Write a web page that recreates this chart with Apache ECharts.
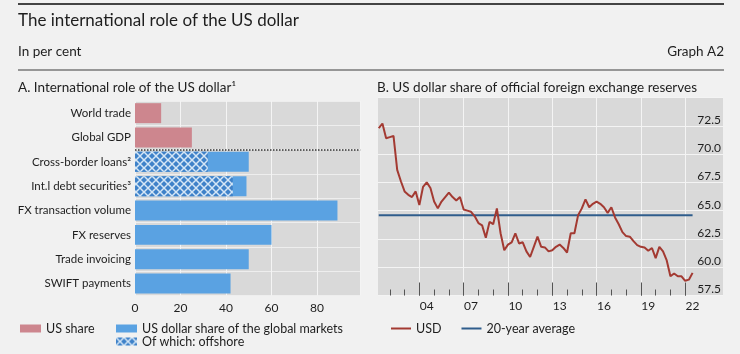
<!DOCTYPE html>
<html>
<head>
<meta charset="utf-8">
<script src="https://cdn.jsdelivr.net/npm/echarts@6/dist/echarts.min.js"></script>
<style>
  html, body { margin: 0; padding: 0; background: #f1f1f1; }
  #chart { width: 740px; height: 354px; }
</style>
</head>
<body>
<div id="chart"></div>
<script>
// Panel A: international role of the US dollar (per cent)
const categories = ['World trade', 'Global GDP', 'Cross-border loans²', 'Int.l debt securities³',
  'FX transaction volume', 'FX reserves', 'Trade invoicing', 'SWIFT payments'];
const usShare = [11.5, 25, '-', '-', '-', '-', '-', '-'];
const dollarShare = ['-', '-', 50, 49, 89, 60, 50, 42];
const offshoreShare = ['-', '-', 32, 43, '-', '-', '-', '-'];
const usShareRows = 2; // dotted separator sits below these rows

// Panel B: USD share of official FX reserves, quarterly from 2001 Q1 to 2022 Q2
const startYear = 2001;
const startQuarter = 1;
const usdShare = [
  72.3, 72.7, 71.4, 71.5, 71.6, 68.6, 67.6, 66.7, 66.4, 66.2,
  66.7, 65.5, 67.1, 67.5, 67.0, 65.8, 65.2, 65.8, 66.2, 66.6,
  66.2, 65.9, 66.2, 65.1, 65.0, 64.9, 64.5, 63.9, 63.7, 62.6,
  64.0, 63.8, 65.2, 63.0, 61.5, 62.0, 62.2, 63.0, 62.1, 62.2,
  61.4, 60.9, 61.8, 62.7, 61.8, 61.75, 61.4, 61.5, 61.8, 62.0,
  61.7, 61.3, 63.0, 63.0, 64.6, 65.2, 66.0, 65.3, 65.6, 65.8,
  65.6, 65.3, 64.8, 65.3, 64.4, 63.8, 63.1, 62.75, 62.7, 62.3,
  61.95, 61.8, 61.75, 61.45, 61.7, 60.8, 61.8, 61.4, 60.6, 59.2,
  59.45, 59.2, 59.2, 58.8, 58.9, 59.5
];
const twentyYearAverage = 64.6;
const minorTickYears = [2002, 2003, 2004, 2005, 2006, 2007, 2008, 2009, 2010, 2011, 2012,
  2013, 2014, 2015, 2016, 2017, 2018, 2019, 2020, 2021, 2022];
const majorTickYears = [2004, 2007, 2010, 2013, 2016, 2019, 2022];

const FONT = 'Lato';
const TXT = '#1e1e1e';
const PLOT_BG = '#d9d9d9';
const PINK = '#cd868e';
const BLUE = '#5aa2e2';
const RED = '#a33a32';
const NAVY = '#2f5d8c';

// cross-hatch fill for the offshore part
function makeHatch() {
  const c = document.createElement('canvas');
  c.width = 8; c.height = 8;
  const g = c.getContext('2d');
  g.fillStyle = '#3f82c9';
  g.fillRect(0, 0, 8, 8);
  g.strokeStyle = '#d4e6f6';
  g.lineWidth = 1.5;
  g.beginPath();
  g.moveTo(0, 0); g.lineTo(8, 8);
  g.moveTo(8, 0); g.lineTo(0, 8);
  g.stroke();
  return c;
}
const hatch = { image: makeHatch(), repeat: 'repeat' };

const usdPoints = usdShare.map((v, i) => [startYear + (startQuarter + i) / 4, v]);
const firstX = usdPoints[0][0];
const lastX = usdPoints[usdPoints.length - 1][0];
const avgPoints = [[firstX, twentyYearAverage], [lastX, twentyYearAverage]];

const chart = echarts.init(document.getElementById('chart'));

const text = (x, y, str, size, align) => ({
  type: 'text', x: x, y: y, silent: true,
  style: { text: str, fill: TXT, font: `${size}px ${FONT}`, align: align || 'left', verticalAlign: 'middle' }
});
const rule = (y, w, color) => ({
  type: 'line', silent: true,
  shape: { x1: 18, y1: y, x2: 724, y2: y },
  style: { stroke: color, lineWidth: w }
});

chart.setOption({
  animation: false,
  textStyle: { fontFamily: FONT, color: TXT },
  graphic: [
    rule(4, 2, '#444'),
    rule(70, 1.5, '#777'),
    text(18, 21, 'The international role of the US dollar', 17),
    text(18, 52, 'In per cent', 13.5),
    text(724, 52, 'Graph A2', 13.5, 'right'),
    text(18, 88, 'A. International role of the US dollar¹', 13.5),
    text(377, 88, 'B. US dollar share of official foreign exchange reserves', 13.5)
  ],
  grid: [
    { left: 135, top: 101, width: 225.2, height: 194.7, show: true, backgroundColor: PLOT_BG, borderWidth: 0 },
    { left: 378, top: 97.5, width: 345, height: 198, show: true, backgroundColor: PLOT_BG, borderWidth: 0 }
  ],
  legend: [
    {
      left: 20, top: 322, padding: 0, itemWidth: 21, itemHeight: 8,
      icon: 'rect', textStyle: { fontSize: 12.5, color: TXT },
      data: ['US share']
    },
    {
      left: 116, top: 322, padding: 0, itemWidth: 21, itemHeight: 8, itemGap: 0,
      orient: 'vertical', icon: 'rect', textStyle: { fontSize: 12.5, color: TXT },
      data: ['US dollar share of the global markets', 'Of which: offshore']
    },
    {
      left: 391, top: 322, padding: 0, itemWidth: 20, itemHeight: 2, itemGap: 20,
      icon: 'rect', textStyle: { fontSize: 12.5, color: TXT },
      data: ['USD', '20-year average']
    }
  ],
  xAxis: [
    {
      gridIndex: 0, type: 'value', min: 0, max: 99, interval: 20,
      axisLine: { show: false }, axisTick: { show: false },
      axisLabel: { fontSize: 12, color: TXT, margin: 6, showMaxLabel: false },
      splitLine: { lineStyle: { color: '#f4f4f4', width: 1 } }
    },
    {
      gridIndex: 1, type: 'value', min: 2001.2, max: 2024.56, position: 'bottom',
      axisLine: { show: false },
      axisTick: { inside: true, length: 6, customValues: minorTickYears, lineStyle: { color: '#555', width: 1 } },
      axisLabel: { show: false },
      splitLine: { show: false }
    },
    {
      gridIndex: 1, type: 'value', min: 2001.2, max: 2024.56, position: 'bottom',
      axisLine: { show: false },
      axisTick: { inside: true, length: 13, customValues: majorTickYears, lineStyle: { color: '#555', width: 1 } },
      axisLabel: {
        fontSize: 12, color: TXT, margin: 5,
        customValues: majorTickYears.map(y => y + 0.5),
        formatter: v => String(Math.floor(v)).slice(2)
      },
      splitLine: { show: true, lineStyle: { color: '#f4f4f4', width: 1 } }
    }
  ],
  yAxis: [
    {
      gridIndex: 0, type: 'category', data: categories, inverse: true,
      axisLine: { show: false }, axisTick: { show: false },
      axisLabel: { fontSize: 11.5, color: TXT, margin: 4 },
      splitLine: { show: true, lineStyle: { color: '#eeeeee', width: 1 } }
    },
    {
      gridIndex: 0, type: 'value', min: 0, max: categories.length, inverse: true, show: false
    },
    {
      gridIndex: 1, type: 'value', min: 57.5, max: 75, interval: 2.5, position: 'right',
      axisLine: { show: false }, axisTick: { show: false },
      axisLabel: {
        inside: true, margin: 2, fontSize: 12, color: TXT, verticalAlign: 'bottom',
        showMaxLabel: false, formatter: v => v.toFixed(1)
      },
      splitLine: { lineStyle: { color: '#f4f4f4', width: 1 } }
    }
  ],
  series: [
    {
      name: 'US share', type: 'bar', xAxisIndex: 0, yAxisIndex: 0,
      data: usShare, barCategoryGap: '18%', barGap: '-100%',
      itemStyle: { color: PINK }
    },
    {
      name: 'US dollar share of the global markets', type: 'bar', xAxisIndex: 0, yAxisIndex: 0,
      data: dollarShare, barCategoryGap: '18%', barGap: '-100%',
      itemStyle: { color: BLUE }
    },
    {
      name: 'Of which: offshore', type: 'bar', xAxisIndex: 0, yAxisIndex: 0,
      data: offshoreShare, barCategoryGap: '18%', barGap: '-100%',
      itemStyle: { color: hatch }
    },
    {
      name: 'separator', type: 'line', xAxisIndex: 0, yAxisIndex: 1,
      data: [], silent: true,
      markLine: {
        silent: true, symbol: 'none', label: { show: false },
        lineStyle: { type: 'dotted', color: '#333', width: 1.5 },
        data: [{ yAxis: usShareRows }]
      }
    },
    {
      name: '20-year average', type: 'line', xAxisIndex: 2, yAxisIndex: 2,
      data: avgPoints, symbol: 'none', lineStyle: { color: NAVY, width: 2 }, itemStyle: { color: NAVY }
    },
    {
      name: 'USD', type: 'line', xAxisIndex: 2, yAxisIndex: 2,
      data: usdPoints, symbol: 'none', lineStyle: { color: RED, width: 2 }, itemStyle: { color: RED }
    }
  ]
});
</script>
</body>
</html>
